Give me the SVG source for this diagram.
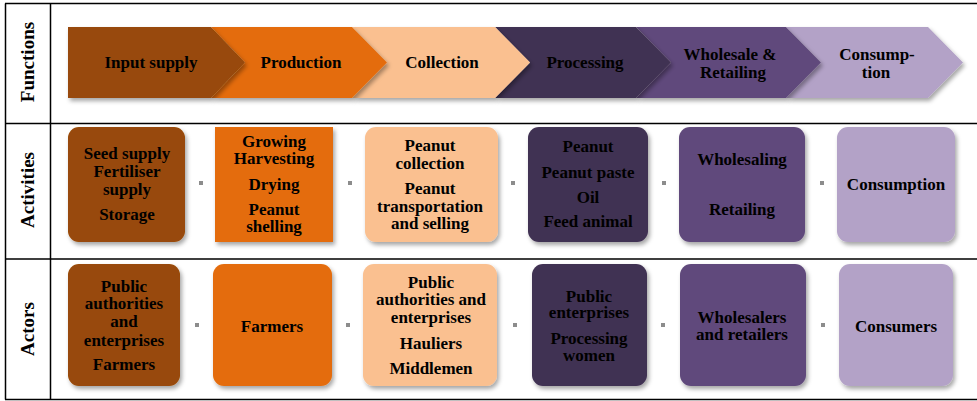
<svg xmlns="http://www.w3.org/2000/svg" width="977" height="401" viewBox="0 0 977 401">
<defs>
<filter id="sh" x="-10%" y="-10%" width="130%" height="130%">
<feDropShadow dx="2" dy="3" stdDeviation="2" flood-color="#000" flood-opacity="0.35"/>
</filter>
</defs>
<style>
text{font-family:"Liberation Serif","Times New Roman",serif;font-weight:bold;fill:#000;text-anchor:middle}
.t{font-size:17px}
.row{font-size:19px}
.grid{stroke:#000;stroke-width:1.5;fill:none}
.c1{fill:#984807}.c2{fill:#E46C0A}.c3{fill:#FAC090}.c4{fill:#403152}.c5{fill:#604A7B}.c6{fill:#B3A2C7}
.dot{fill:#8c8c8c}
.box{filter:url(#sh)}
</style>
<rect width="977" height="401" fill="#fff"/>
<g id="table">
<path class="grid" d="M5 3.5H977M5 123.5H977M5 259H977M5 399.5H977M5.5 3.5V399.5M50.5 3.5V399.5"/>
<text class="row" transform="translate(34,62) rotate(-90)">Functions</text>
<text class="row" transform="translate(34,190) rotate(-90)">Activities</text>
<text class="row" transform="translate(34,329) rotate(-90)">Actors</text>
</g>
<g id="functions">
<g id="f6"><polygon class="c6 box" points="786,27 928,27 963,62.5 928,98 786,98 821,62.5"/><text class="t" x="877" y="60">Consump-</text><text class="t" x="876" y="78">tion</text></g>
<g id="f5"><polygon class="c5 box" points="636,27 786,27 821,62.5 786,98 636,98 671,62.5"/><text class="t" x="730" y="60">Wholesale &amp;</text><text class="t" x="733" y="78">Retailing</text></g>
<g id="f4"><polygon class="c4 box" points="495,27 636,27 671,62.5 636,98 495,98 530,62.5"/><text class="t" x="585" y="68">Processing</text></g>
<g id="f3"><polygon class="c3 box" points="352,27 495,27 530,62.5 495,98 352,98 387,62.5"/><text class="t" x="442" y="68">Collection</text></g>
<g id="f2"><polygon class="c2 box" points="211,27 352,27 387,62.5 352,98 211,98 245,62.5"/><text class="t" x="301" y="68">Production</text></g>
<g id="f1"><polygon class="c1 box" points="68,27 211,27 245,62.5 211,98 68,98"/><text class="t" x="151" y="68">Input supply</text></g>
</g>
<g id="connectors">
<rect class="dot" x="199" y="181" width="4" height="4"/>
<rect class="dot" x="348" y="181" width="4" height="4"/>
<rect class="dot" x="511" y="181" width="4" height="4"/>
<rect class="dot" x="662" y="181" width="4" height="4"/>
<rect class="dot" x="820" y="181" width="4" height="4"/>
<rect class="dot" x="195" y="323" width="4" height="4"/>
<rect class="dot" x="346" y="323" width="4" height="4"/>
<rect class="dot" x="513" y="323" width="4" height="4"/>
<rect class="dot" x="661" y="323" width="4" height="4"/>
<rect class="dot" x="821" y="323" width="4" height="4"/>
</g>
<g id="a1"><rect class="c1 box" x="68" y="127" width="117" height="115" rx="11"/>
<text class="t" x="127" y="159">Seed supply</text><text class="t" x="127" y="177">Fertiliser</text><text class="t" x="127" y="195">supply</text><text class="t" x="127" y="220">Storage</text></g>
<g id="a2"><rect class="c2 box" x="215" y="127" width="118" height="115"/>
<text class="t" x="274" y="147">Growing</text><text class="t" x="274" y="164">Harvesting</text><text class="t" x="274" y="190">Drying</text><text class="t" x="274" y="215">Peanut</text><text class="t" x="274" y="232">shelling</text></g>
<g id="a3"><rect class="c3 box" x="365" y="127" width="133" height="115" rx="11"/>
<text class="t" x="430" y="151">Peanut</text><text class="t" x="430" y="169">collection</text><text class="t" x="430" y="194">Peanut</text><text class="t" x="430" y="212">transportation</text><text class="t" x="430" y="229">and selling</text></g>
<g id="a4"><rect class="c4 box" x="528" y="127" width="120" height="115" rx="11"/>
<text class="t" x="588" y="152">Peanut</text><text class="t" x="588" y="178">Peanut paste</text><text class="t" x="588" y="203">Oil</text><text class="t" x="588" y="227">Feed animal</text></g>
<g id="a5"><rect class="c5 box" x="679" y="127" width="126" height="115" rx="11"/>
<text class="t" x="742" y="165">Wholesaling</text><text class="t" x="742" y="215">Retailing</text></g>
<g id="a6"><rect class="c6 box" x="837" y="127" width="118" height="115" rx="11"/>
<text class="t" x="896" y="190">Consumption</text></g>
<g id="r1"><rect class="c1 box" x="68" y="264" width="112" height="122" rx="11"/>
<text class="t" x="124" y="292">Public</text><text class="t" x="124" y="309">authorities</text><text class="t" x="124" y="327">and</text><text class="t" x="124" y="346">enterprises</text><text class="t" x="124" y="370">Farmers</text></g>
<g id="r2"><rect class="c2 box" x="213" y="264" width="119" height="122" rx="11"/>
<text class="t" x="272" y="332">Farmers</text></g>
<g id="r3"><rect class="c3 box" x="363" y="264" width="134" height="122" rx="11"/>
<text class="t" x="431" y="288">Public</text><text class="t" x="431" y="305">authorities and</text><text class="t" x="431" y="323">enterprises</text><text class="t" x="431" y="349">Hauliers</text><text class="t" x="431" y="374">Middlemen</text></g>
<g id="r4"><rect class="c4 box" x="532" y="264" width="115" height="122" rx="11"/>
<text class="t" x="589" y="302">Public</text><text class="t" x="589" y="318">enterprises</text><text class="t" x="589" y="344">Processing</text><text class="t" x="589" y="361">women</text></g>
<g id="r5"><rect class="c5 box" x="680" y="264" width="126" height="122" rx="11"/>
<text class="t" x="742" y="323">Wholesalers</text><text class="t" x="742" y="340">and retailers</text></g>
<g id="r6"><rect class="c6 box" x="839" y="264" width="114" height="122" rx="11"/>
<text class="t" x="896" y="332">Consumers</text></g>
</svg>
